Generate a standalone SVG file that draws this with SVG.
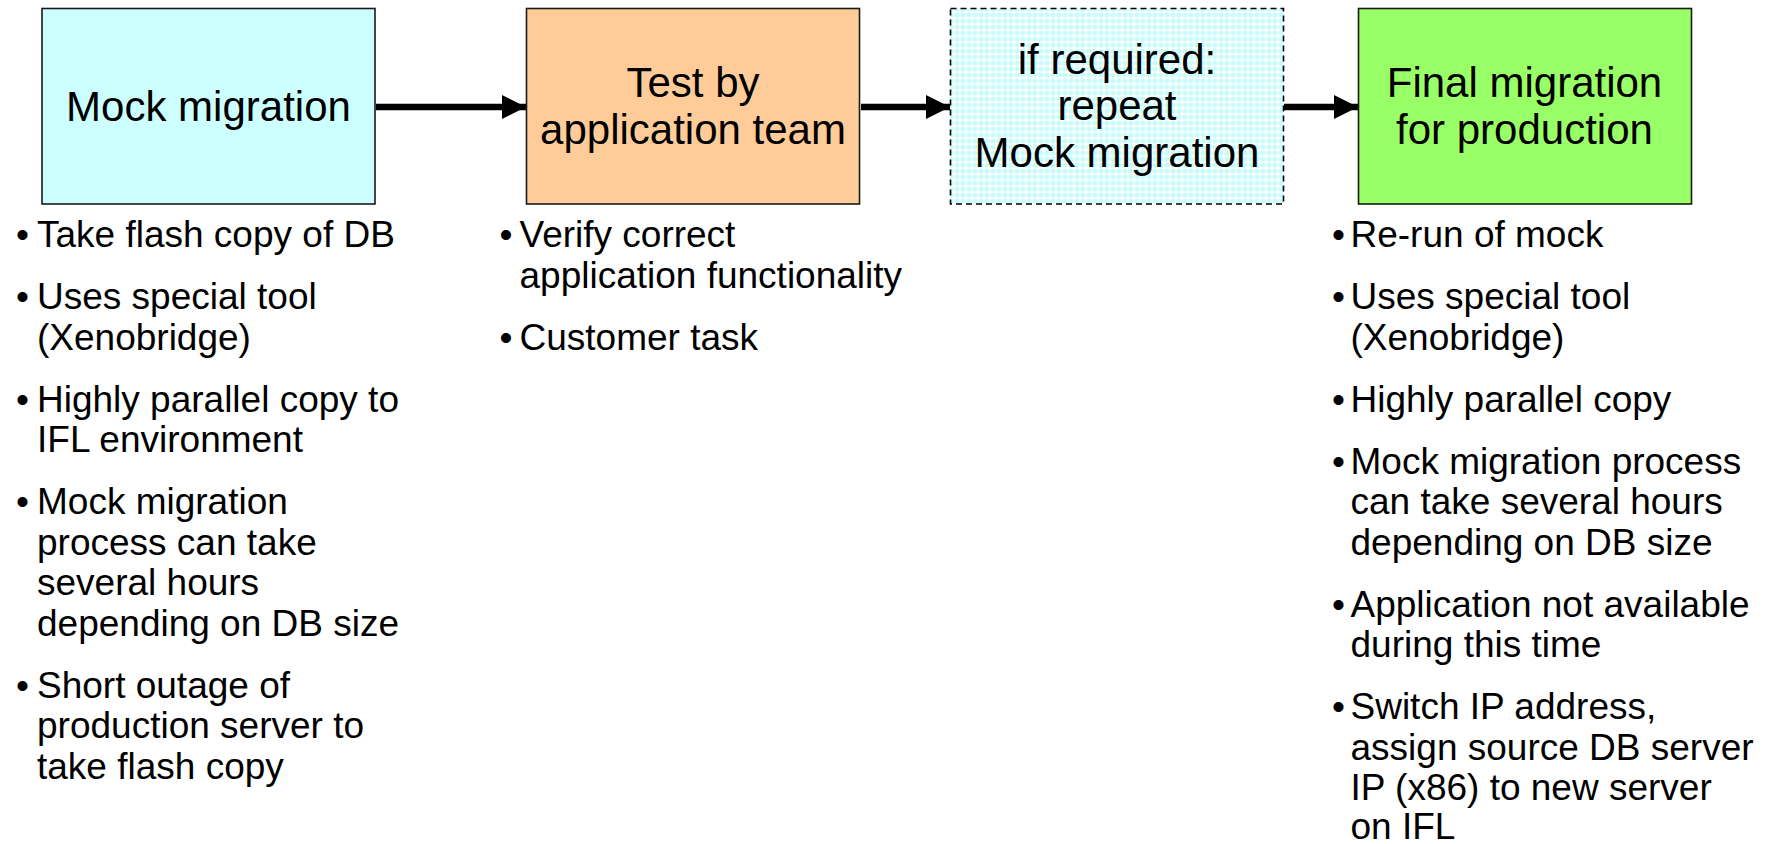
<svg xmlns="http://www.w3.org/2000/svg" width="1768" height="844" viewBox="0 0 1768 844">
<style>
.box{stroke:#1a1a1a;stroke-width:1.6}
.bt{font-family:"Liberation Sans",Arial,sans-serif;font-size:42px;fill:#000;text-anchor:middle}
.li{font-family:"Liberation Sans",Arial,sans-serif;font-size:37px;fill:#000}
.conn{stroke:#000;stroke-width:6.5;fill:none}
</style>
<defs>
<pattern id="dots" width="6" height="6" patternUnits="userSpaceOnUse">
<rect width="6" height="6" fill="#ffffff"/>
<circle cx="3" cy="3" r="2.6" fill="#c8fcfc"/>
</pattern>
<marker id="ah" viewBox="0 0 24 24" refX="24" refY="12" markerWidth="24" markerHeight="24" markerUnits="userSpaceOnUse" orient="auto">
<path d="M0,0 L24,12 L0,24 Z" fill="#000"/>
</marker>
</defs>
<rect width="1768" height="844" fill="#fff"/>
<g id="connectors">
<line class="conn" x1="376" y1="107" x2="526" y2="107" marker-end="url(#ah)"/>
<line class="conn" x1="861" y1="107" x2="950" y2="107" marker-end="url(#ah)"/>
<line class="conn" x1="1284" y1="107" x2="1358" y2="107" marker-end="url(#ah)"/>
</g>
<g id="mock">
<rect class="box" x="42" y="8.5" width="333" height="195.5" fill="#ccffff"/>
<text class="bt" x="208.5" y="121">Mock migration</text>
</g>
<g id="test">
<rect class="box" x="526.5" y="8.5" width="333" height="195.5" fill="#ffcc99"/>
<text class="bt" x="693" y="97">Test by</text>
<text class="bt" x="693" y="143.5">application team</text>
</g>
<g id="repeat">
<rect x="950.5" y="8.5" width="333" height="195.5" fill="url(#dots)" stroke="#000" stroke-width="1.6" stroke-dasharray="6,4"/>
<text class="bt" x="1117" y="73.5">if required:</text>
<text class="bt" x="1117" y="120">repeat</text>
<text class="bt" x="1117" y="166.5">Mock migration</text>
</g>
<g id="final">
<rect class="box" x="1358.5" y="8.5" width="333" height="195.5" fill="#99ff66"/>
<text class="bt" x="1524.5" y="97">Final migration</text>
<text class="bt" x="1524.5" y="143.5">for production</text>
</g>
<g id="mock-notes" class="li">
<text x="16" y="247">•</text><text x="37" y="247">Take flash copy of DB</text>
<text x="16" y="309">•</text><text x="37" y="309">Uses special tool</text>
<text x="37" y="349.5">(Xenobridge)</text>
<text x="16" y="411.5">•</text><text x="37" y="411.5">Highly parallel copy to</text>
<text x="37" y="452">IFL environment</text>
<text x="16" y="514">•</text><text x="37" y="514">Mock migration</text>
<text x="37" y="554.5">process can take</text>
<text x="37" y="595">several hours</text>
<text x="37" y="635.5">depending on DB size</text>
<text x="16" y="697.5">•</text><text x="37" y="697.5">Short outage of</text>
<text x="37" y="738">production server to</text>
<text x="37" y="778.5">take flash copy</text>
</g>
<g id="test-notes" class="li">
<text x="499.5" y="247">•</text><text x="519.5" y="247">Verify correct</text>
<text x="519.5" y="287.5">application functionality</text>
<text x="499.5" y="349.5">•</text><text x="519.5" y="349.5">Customer task</text>
</g>
<g id="final-notes" class="li">
<text x="1332" y="247">•</text><text x="1350.5" y="247">Re-run of mock</text>
<text x="1332" y="309">•</text><text x="1350.5" y="309">Uses special tool</text>
<text x="1350.5" y="349.5">(Xenobridge)</text>
<text x="1332" y="411.5">•</text><text x="1350.5" y="411.5">Highly parallel copy</text>
<text x="1332" y="474">•</text><text x="1350.5" y="474">Mock migration process</text>
<text x="1350.5" y="514">can take several hours</text>
<text x="1350.5" y="554.5">depending on DB size</text>
<text x="1332" y="616.5">•</text><text x="1350.5" y="616.5">Application not available</text>
<text x="1350.5" y="657">during this time</text>
<text x="1332" y="719">•</text><text x="1350.5" y="719">Switch IP address,</text>
<text x="1350.5" y="759.5">assign source DB server</text>
<text x="1350.5" y="800">IP (x86) to new server</text>
<text x="1350.5" y="839">on IFL</text>
</g>
</svg>
